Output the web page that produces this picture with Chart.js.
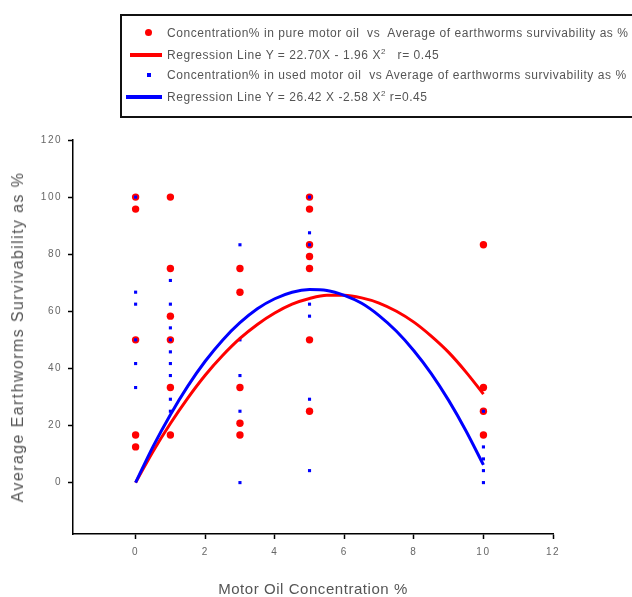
<!DOCTYPE html>
<html>
<head>
<meta charset="utf-8">
<script src="https://cdn.jsdelivr.net/npm/chart.js@4/dist/chart.umd.min.js"></script>
<style>
  html, body { margin: 0; padding: 0; background: #fff; }
  #wrap { position: relative; width: 632px; height: 597px; overflow: hidden; }
  #c { position: absolute; left: 0; top: 0; }
  #legend { position: absolute; left: 120px; top: 14px; width: 530px; height: 104px;
    border: 2px solid #111; box-sizing: border-box; font-family: "Liberation Sans", Arial, sans-serif;
    font-size: 12px; letter-spacing: 0.55px; color: #555; }
  .row { position: absolute; left: 0; height: 14px; line-height: 14px; white-space: nowrap; }
  .txt { position: absolute; left: 45px; top: 0; }
  .sw { position: absolute; }
  sup { font-size: 8px; vertical-align: 5px; line-height: 0; }
  .title { position: absolute; font-family: "Liberation Sans", Arial, sans-serif; color: #555; white-space: nowrap; }
  #ytitle { left: 18px; top: 337px; font-size: 16px; letter-spacing: 1.4px; transform: translate(-50%, -50%) rotate(-90deg); }
  #xtitle { left: 313px; top: 588px; font-size: 15px; letter-spacing: 0.55px; transform: translate(-50%, -50%); }
</style>
</head>
<body>
<div id="wrap">
  <canvas id="c" width="632" height="597"></canvas>
  <div id="legend"></div>
  <div class="title" id="ytitle"></div>
  <div class="title" id="xtitle"></div>
</div>
<script>
// ---- data ----
const pureX = [0,0,0,0,0, 1,1,1,1,1,1, 3,3,3,3,3, 5,5,5,5,5,5,5, 10,10,10,10];
const pureY = [100,95.8,50,16.7,12.5, 100,75,58.3,50,33.3,16.7, 75,66.7,33.3,20.8,16.7, 100,95.8,83.3,79.2,75,50,25, 83.3,33.3,25,16.7];

const usedX = [0,0,0,0,0,0, 1,1,1,1,1,1,1,1,1, 3,3,3,3,3, 5,5,5,5,5,5,5, 10,10,10,10,10];
const usedY = [100,66.7,62.5,50,41.7,33.3, 70.8,62.5,54.2,50,45.8,41.7,37.5,29.2,25, 83.3,50,37.5,25,0, 100,87.5,83.3,62.5,58.3,29.2,4.2, 25,12.5,8.3,4.2,0];

// regression curves
const curveX    = [0,0.5,1,1.5,2,2.5,3,3.5,4,4.5,5,5.5,6,6.5,7,7.5,8,8.5,9,9.5,10];
const pureCurve = [0,10.9,20.7,29.6,37.6,44.5,50.5,55.4,59.4,62.5,64.5,65.6,65.6,64.7,62.9,60.0,56.2,51.3,45.6,38.7,31.0];
const usedCurve = [0,12.6,23.8,33.8,42.5,49.9,56.0,60.9,64.4,66.7,67.6,67.3,65.6,62.8,58.5,53.0,46.2,38.2,28.8,18.1,6.2];

const xTicks = [0,2,4,6,8,10,12];
const yTicks = [0,20,40,60,80,100,120];

const xTitle = "Motor Oil Concentration %";
const yTitle = "Average Earthworms Survivability as %";
const labels = [
  "Concentration% in pure motor oil&nbsp; vs&nbsp; Average of earthworms survivability as %",
  "Regression Line Y = 22.70X - 1.96 X<sup>2</sup>&nbsp;&nbsp; r= 0.45",
  "Concentration% in used motor oil&nbsp; vs Average of earthworms survivability as %",
  "Regression Line Y = 26.42 X -2.58 X<sup>2</sup> r=0.45"
];
const RED = '#ff0000', BLUE = '#0000ff';

document.getElementById('xtitle').textContent = xTitle;
document.getElementById('ytitle').textContent = yTitle;

// ---- legend (HTML) ----
const lg = document.getElementById('legend');
const rowTops = [10, 32, 52, 74];
const swatches = [
  '<div class="sw" style="left:23px;top:3px;width:7px;height:7px;border-radius:50%;background:'+RED+'"></div>',
  '<div class="sw" style="left:8px;top:5px;width:32px;height:4px;background:'+RED+'"></div>',
  '<div class="sw" style="left:25px;top:5px;width:4px;height:4px;background:'+BLUE+'"></div>',
  '<div class="sw" style="left:4px;top:5px;width:36px;height:4px;background:'+BLUE+'"></div>'
];
labels.forEach((t,i)=>{
  const r = document.createElement('div');
  r.className='row'; r.style.top = rowTops[i]+'px'; r.style.width='600px';
  r.innerHTML = swatches[i] + '<span class="txt">'+t+'</span>';
  lg.appendChild(r);
});

const pts = (xs, ys) => xs.map((x,i)=>({x, y: ys[i]}));

const spacing = {
  id: 'spacing',
  beforeDraw(chart) { chart.ctx.letterSpacing = '1.5px'; }
};

new Chart(document.getElementById('c'), {
  type: 'scatter',
  data: {
    datasets: [
      { label: 'pure', data: pts(pureX, pureY), order: 3, backgroundColor: RED, borderColor: RED,
        pointStyle: 'circle', pointRadius: 3.7, borderWidth: 0 },
      { label: 'used', data: pts(usedX, usedY), order: 2, backgroundColor: BLUE, borderColor: BLUE,
        pointStyle: 'rect', pointRadius: 2.2, borderWidth: 0 },
      { label: 'pureReg', type: 'line', data: pts(curveX, pureCurve), order: 1, borderColor: RED,
        borderWidth: 3, pointRadius: 0, fill: false, cubicInterpolationMode: 'monotone' },
      { label: 'usedReg', type: 'line', data: pts(curveX, usedCurve), order: 0, borderColor: BLUE,
        borderWidth: 3, pointRadius: 0, fill: false, cubicInterpolationMode: 'monotone' }
    ]
  },
  plugins: [spacing],
  options: {
    responsive: false, animation: false,
    layout: { padding: { left: 10, top: 140, right: 79, bottom: 1 } },
    plugins: { legend: { display: false }, tooltip: { enabled: false } },
    scales: {
      x: {
        type: 'linear', min: -1.8, max: 12,
        afterBuildTicks: s => { s.ticks = xTicks.map(v=>({value:v})); },
        afterFit: s => { s.height = 62; },
        grid: { drawOnChartArea: false, drawTicks: true, tickLength: 5, color: '#000', tickWidth: 1.5 },
        border: { display: true, color: '#000', width: 1.5 },
        ticks: { color: '#666', padding: 7, font: { family: 'Liberation Sans', size: 10 }, maxRotation: 0 },
        title: { display: false }
      },
      y: {
        type: 'linear', min: -18, max: 120,
        afterBuildTicks: s => { s.ticks = yTicks.map(v=>({value:v})); },
        afterFit: s => { s.width = 63; },
        grid: { drawOnChartArea: false, drawTicks: true, tickLength: 5, color: '#000', tickWidth: 1.5 },
        border: { display: true, color: '#000', width: 1.5 },
        ticks: { color: '#666', padding: 6, font: { family: 'Liberation Sans', size: 10 } },
        title: { display: false }
      }
    }
  }
});
</script>
</body>
</html>
